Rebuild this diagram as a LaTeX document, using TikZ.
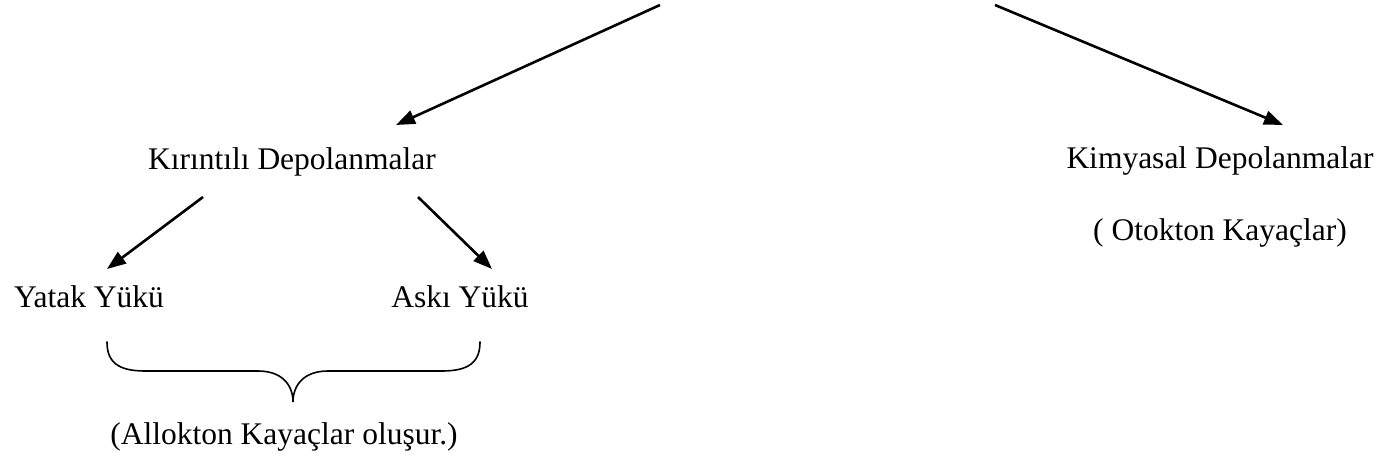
\documentclass[tikz,border=0pt]{standalone}
\usepackage{fontspec}
\setmainfont{Liberation Serif}
\usetikzlibrary{arrows.meta}
\tikzset{
  lbl/.style={inner sep=0pt, anchor=base, font=\fontsize{31.5}{36}\selectfont},
  arr/.style={line width=2.6pt, -{Triangle[length=19pt,width=14pt]}},
  brace/.style={line width=1.6pt, line cap=round}
}
\begin{document}
\begin{tikzpicture}[x=1pt,y=-1pt]
\useasboundingbox (0,0) rectangle (1378,460);
% labels
\node[lbl] (kir) at (292,169) {Kırıntılı Depolanmalar};
\node[lbl] (kim) at (1220,168) {Kimyasal Depolanmalar};
\node[lbl] (oto) at (1220,240) {( Otokton Kayaçlar)};
\node[lbl] (yat) at (89,307) {Yatak Yükü};
\node[lbl] (ask) at (460,307) {Askı Yükü};
\node[lbl] (all) at (284,444) {(Allokton Kayaçlar oluşur.)};
% connector ends
\coordinate (s1) at (660,5);
\coordinate (t1) at (396,125);
\coordinate (s2) at (995,5);
\coordinate (t2) at (1283,125);
\coordinate (s3) at (203,197);
\coordinate (t3) at (107,269);
\coordinate (s4) at (418,197);
\coordinate (t4) at (492,269);
% arrows
\draw[arr] (s1) -- (t1);
\draw[arr] (s2) -- (t2);
\draw[arr] (s3) -- (t3);
\draw[arr] (s4) -- (t4);
% brace
\coordinate (bl) at (107,342);
\coordinate (br) at (480,342);
\coordinate (bt) at (293,402);
\draw[brace] (bl) .. controls (107,362) and (118,371) .. (145,371)
  -- (258,371) .. controls (282,371) and (293,385) .. (bt)
  .. controls (293,385) and (304,371) .. (328,371)
  -- (442,371) .. controls (469,371) and (480,362) .. (br);
\end{tikzpicture}
\end{document}
